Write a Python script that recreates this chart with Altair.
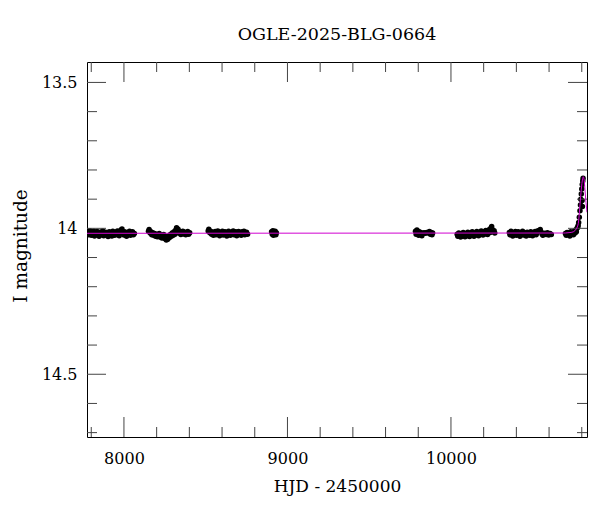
import altair as alt
import pandas as pd

s1_t = [7778, 7782, 7788, 7792, 7800, 7804, 7810, 7815, 7820, 7826, 7832, 7836, 7842, 7848, 7854, 7858, 7864, 7870, 7876, 7880, 7888, 7892, 7898, 7903, 7910, 7914, 7920, 7926, 7932, 7937, 7943, 7948, 7955, 7960, 7966, 7971, 7977, 7982, 7988, 7993, 8000, 8005, 8011, 8016, 8022, 8028, 8034, 8040, 8046, 8052, 8058, 8064]
s1_m = [14.012, 14.022, 14.016, 14.008, 14.024, 14.014, 14.019, 14.010, 14.026, 14.016, 14.021, 14.011, 14.018, 14.027, 14.013, 14.022, 14.016, 14.009, 14.025, 14.018, 14.013, 14.023, 14.017, 14.028, 14.012, 14.020, 14.015, 14.026, 14.010, 14.019, 14.024, 14.014, 14.021, 14.009, 14.017, 14.025, 14.012, 14.006, 14.002, 14.016, 14.023, 14.012, 14.019, 14.027, 14.014, 14.021, 14.010, 14.024, 14.017, 14.012, 14.022, 14.018]

s2_t = [8150, 8154, 8160, 8165, 8170, 8176, 8182, 8187, 8193, 8198, 8204, 8210, 8216, 8221, 8227, 8232, 8238, 8243, 8249, 8254, 8259, 8263, 8268, 8273, 8279, 8284, 8290, 8295, 8301, 8306, 8312, 8317, 8322, 8326, 8331, 8336, 8342, 8348, 8354, 8360, 8366, 8372, 8378, 8384, 8390, 8396, 8402]
s2_m = [14.010, 14.004, 14.016, 14.012, 14.022, 14.015, 14.024, 14.018, 14.027, 14.020, 14.029, 14.022, 14.018, 14.030, 14.024, 14.033, 14.026, 14.021, 14.035, 14.028, 14.040, 14.032, 14.037, 14.026, 14.031, 14.021, 14.027, 14.016, 14.024, 14.012, 14.020, 14.006, 13.998, 14.010, 14.003, 14.016, 14.011, 14.021, 14.015, 14.010, 14.019, 14.013, 14.022, 14.016, 14.011, 14.020, 14.015]

s3_t = [8515, 8519, 8525, 8530, 8536, 8541, 8547, 8552, 8558, 8563, 8569, 8574, 8580, 8585, 8591, 8596, 8602, 8607, 8613, 8618, 8624, 8629, 8635, 8640, 8646, 8651, 8657, 8662, 8668, 8673, 8679, 8684, 8690, 8695, 8701, 8706, 8712, 8717, 8723, 8728, 8734, 8739, 8745, 8750, 8756]
s3_m = [14.009, 14.003, 14.015, 14.010, 14.020, 14.013, 14.024, 14.016, 14.011, 14.022, 14.015, 14.009, 14.019, 14.025, 14.014, 14.020, 14.010, 14.023, 14.016, 14.012, 14.021, 14.026, 14.015, 14.010, 14.019, 14.024, 14.013, 14.018, 14.009, 14.022, 14.016, 14.012, 14.025, 14.018, 14.011, 14.020, 14.015, 14.024, 14.012, 14.019, 14.010, 14.022, 14.016, 14.013, 14.020]

s4_t = [8903, 8907, 8911, 8914, 8918, 8921, 8925, 8929, 8932]
s4_m = [14.012, 14.020, 14.008, 14.024, 14.014, 14.019, 14.010, 14.022, 14.015]

s5_t = [9783, 9787, 9792, 9797, 9802, 9807, 9812, 9817, 9822, 9828, 9835, 9843, 9852, 9861, 9868, 9874, 9879, 9884, 9888]
s5_m = [14.010, 14.020, 14.006, 14.016, 14.024, 14.012, 14.021, 14.015, 14.025, 14.018, 14.015, 14.017, 14.014, 14.016, 14.011, 14.020, 14.014, 14.022, 14.016]

s6_t = [10038, 10042, 10048, 10053, 10059, 10064, 10070, 10075, 10081, 10086, 10092, 10097, 10103, 10108, 10114, 10119, 10125, 10130, 10136, 10141, 10147, 10152, 10158, 10163, 10169, 10174, 10180, 10185, 10191, 10196, 10202, 10207, 10213, 10218, 10224, 10229, 10235, 10240, 10245, 10249, 10254, 10259, 10264, 10268]
s6_m = [14.020, 14.027, 14.016, 14.024, 14.030, 14.019, 14.026, 14.014, 14.022, 14.029, 14.018, 14.025, 14.013, 14.021, 14.028, 14.017, 14.024, 14.012, 14.020, 14.027, 14.016, 14.023, 14.011, 14.019, 14.025, 14.014, 14.021, 14.009, 14.017, 14.023, 14.012, 14.019, 14.007, 14.015, 14.021, 14.010, 14.004, 14.014, 13.999, 13.994, 14.005, 14.012, 14.008, 14.016]

s7_t = [10357, 10361, 10367, 10372, 10378, 10383, 10389, 10394, 10400, 10405, 10411, 10416, 10422, 10427, 10433, 10438, 10444, 10449, 10455, 10460, 10466, 10471, 10477, 10482, 10488, 10493, 10499, 10504, 10510, 10515, 10521, 10526, 10532, 10546, 10551, 10557, 10562, 10574, 10582, 10590, 10598, 10606, 10614]
s7_m = [14.014, 14.022, 14.010, 14.019, 14.026, 14.015, 14.021, 14.011, 14.024, 14.017, 14.012, 14.022, 14.027, 14.016, 14.020, 14.010, 14.023, 14.015, 14.019, 14.026, 14.013, 14.021, 14.016, 14.024, 14.012, 14.019, 14.025, 14.014, 14.020, 14.011, 14.022, 14.016, 14.008, 14.004, 14.012, 14.019, 14.024, 14.017, 14.021, 14.015, 14.023, 14.018, 14.021]

s8_t = [10700, 10705, 10710, 10716, 10721, 10727, 10732, 10738, 10743, 10749, 10754, 10759, 10763, 10767, 10771, 10775, 10778, 10781, 10785, 10789, 10792, 10794, 10797, 10800, 10802, 10804, 10803, 10806, 10808]
s8_m = [14.018, 14.024, 14.014, 14.021, 14.016, 14.026, 14.012, 14.020, 14.015, 14.022, 14.010, 14.016, 14.006, 14.012, 14.000, 13.996, 13.990, 13.980, 13.962, 13.940, 13.920, 13.900, 13.882, 13.865, 13.905, 13.925, 13.850, 13.838, 13.828]

# ---- model light curve ----
model_t = [7774, 10700, 10735, 10748, 10760, 10769, 10775, 10779, 10782, 10785, 10789, 10793, 10797, 10801, 10805, 10809, 10812, 10815, 10818, 10821, 10826, 10832]
model_m = [14.017, 14.016, 14.014, 14.012, 14.007, 14.000, 13.992, 13.983, 13.968, 13.949, 13.920, 13.892, 13.868, 13.846, 13.830, 13.823, 13.826, 13.836, 13.855, 13.879, 13.912, 13.945]

# ---- axis ticks ----
x_major = [8000, 9000, 10000]
x_minor = [7800, 8200, 8400, 8600, 8800, 9200, 9400, 9600, 9800, 10200, 10400, 10600, 10800]
y_major = [13.5, 14.0, 14.5]
y_minor = [13.6, 13.7, 13.8, 13.9, 14.1, 14.2, 14.3, 14.4, 14.6, 14.7]

X_DOMAIN = [7774, 10832]
Y_DOMAIN = [13.43, 14.715]
W, H = 500, 375

obs = pd.DataFrame({
    "t": s1_t + s2_t + s3_t + s4_t + s5_t + s6_t + s7_t + s8_t,
    "m": s1_m + s2_m + s3_m + s4_m + s5_m + s6_m + s7_m + s8_m,
})
model = pd.DataFrame({"t": model_t, "m": model_m})

xs = alt.Scale(domain=X_DOMAIN, nice=False, zero=False)
ys = alt.Scale(domain=Y_DOMAIN, reverse=True, nice=False, zero=False)

xaxis = alt.Axis(values=x_major, format="d", ticks=False, domain=False, grid=False,
                 labelFontSize=16, labelPadding=13, labelColor="black",
                 title="HJD - 2450000", titleFontSize=17, titleFontWeight="normal",
                 titleColor="black", titleX=W / 2, titleY=54, titleBaseline="alphabetic")
yaxis = alt.Axis(values=y_major, labelExpr="'' + datum.value", ticks=False, domain=False,
                 grid=False, labelFontSize=16, labelPadding=10, labelColor="black",
                 title="I magnitude", titleFontSize=18.5, titleFontWeight="normal",
                 titleColor="black", titleX=-67, titleY=H / 2 - 4, titleAngle=-90,
                 titleBaseline="middle", titleAlign="center")

points = alt.Chart(obs).mark_circle(size=30, color="black", opacity=1, clip=True).encode(
    x=alt.X("t:Q", scale=xs, axis=xaxis),
    y=alt.Y("m:Q", scale=ys, axis=yaxis),
)

line = alt.Chart(model).mark_line(color="#d000d0", strokeWidth=1, clip=True).encode(
    x=alt.X("t:Q", scale=xs),
    y=alt.Y("m:Q", scale=ys),
)

TICK = "#444444"

def xticks(vals, length):
    d = pd.DataFrame({"t": vals})
    base = alt.Chart(d).mark_rule(color=TICK, strokeWidth=1)
    bottom = base.encode(x=alt.X("t:Q", scale=xs),
                         y=alt.value(H), y2=alt.value(H - length))
    top = base.encode(x=alt.X("t:Q", scale=xs),
                      y=alt.value(0), y2=alt.value(length))
    return [bottom, top]

def yticks(vals, length):
    d = pd.DataFrame({"m": vals})
    base = alt.Chart(d).mark_rule(color=TICK, strokeWidth=1)
    left = base.encode(y=alt.Y("m:Q", scale=ys),
                       x=alt.value(0), x2=alt.value(length))
    right = base.encode(y=alt.Y("m:Q", scale=ys),
                        x=alt.value(W - length), x2=alt.value(W))
    return [left, right]

layers = ([points] + xticks(x_major, 20) + xticks(x_minor, 10) +
          yticks(y_major, 19) + yticks(y_minor, 10) + [line])

chart = alt.layer(*layers).properties(
    width=W, height=H,
    title=alt.TitleParams("OGLE-2025-BLG-0664", fontSize=17.5, fontWeight="normal",
                          font="DejaVu Serif", color="black", offset=18, anchor="middle"),
    autosize=alt.AutoSizeParams(type="none"),
    padding={"left": 79, "top": 54, "right": 5, "bottom": 67},
).configure(font="DejaVu Serif").configure_view(
    stroke="black", strokeWidth=1
).configure_axis(labelFont="DejaVu Serif", titleFont="DejaVu Serif")

chart.save("out.html", embed_options={"renderer": "svg", "actions": False})
